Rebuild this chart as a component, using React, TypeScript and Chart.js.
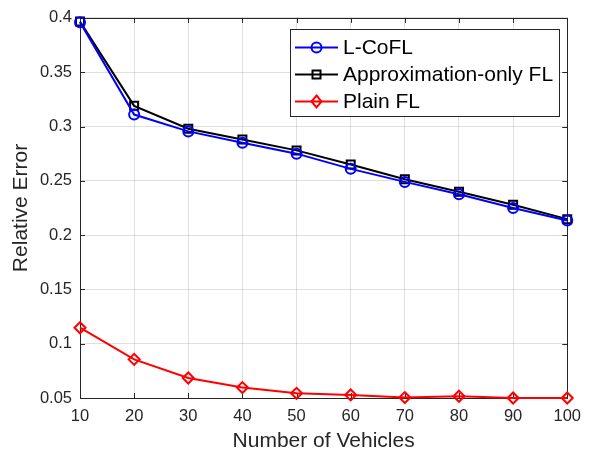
import React, { useEffect, useRef } from "react";
import { Chart, registerables } from "chart.js";
Chart.register(...registerables);

const vehicles = [10, 20, 30, 40, 50, 60, 70, 80, 90, 100];
const lcofl = [0.396, 0.311, 0.2955, 0.285, 0.275, 0.261, 0.249, 0.2376, 0.225, 0.2135];
const approxOnly = [0.3966, 0.319, 0.298, 0.288, 0.278, 0.265, 0.2514, 0.24, 0.228, 0.2147];
const plainFL = [0.1147, 0.0856, 0.0684, 0.0596, 0.0543, 0.0528, 0.0504, 0.0516, 0.05, 0.05];
const seriesNames = ["L-CoFL", "Approximation-only FL", "Plain FL"];
const xTicks = [10, 20, 30, 40, 50, 60, 70, 80, 90, 100];
const xTickLabels = ["10", "20", "30", "40", "50", "60", "70", "80", "90", "100"];
const yTicks = [0.05, 0.1, 0.15, 0.2, 0.25, 0.3, 0.35, 0.4];
const yTickLabels = ["0.05", "0.1", "0.15", "0.2", "0.25", "0.3", "0.35", "0.4"];

const AXIS = "#262626";
const FONT = "'Liberation Sans', Arial, Helvetica, sans-serif";

function marker(ctx: CanvasRenderingContext2D, style: string, x: number, y: number) {
  ctx.beginPath();
  if (style === "circle") {
    ctx.arc(x, y, 5, 0, Math.PI * 2);
  } else if (style === "rect") {
    ctx.rect(x - 4, y - 4, 8, 8);
  } else {
    ctx.moveTo(x, y - 6);
    ctx.lineTo(x + 5, y);
    ctx.lineTo(x, y + 6);
    ctx.lineTo(x - 5, y);
    ctx.closePath();
  }
  ctx.stroke();
}

const boxPlugin = {
  id: "matlabBox",
  beforeDatasetsDraw(chart: any) {
    const { ctx, chartArea, scales } = chart;
    const { left, right, top, bottom } = chartArea;
    ctx.save();
    ctx.strokeStyle = AXIS;
    ctx.lineWidth = 1;
    ctx.strokeRect(Math.round(left) + 0.5, Math.round(top) + 0.5, Math.round(right - left), Math.round(bottom - top));
    ctx.beginPath();
    const tl = 5;
    xTicks.forEach((v) => {
      const px = Math.round(scales.x.getPixelForValue(v)) + 0.5;
      ctx.moveTo(px, bottom);
      ctx.lineTo(px, bottom - tl);
      ctx.moveTo(px, top);
      ctx.lineTo(px, top + tl);
    });
    yTicks.forEach((v) => {
      const py = Math.round(scales.y.getPixelForValue(v)) + 0.5;
      ctx.moveTo(left, py);
      ctx.lineTo(left + tl, py);
      ctx.moveTo(right, py);
      ctx.lineTo(right - tl, py);
    });
    ctx.stroke();
    ctx.restore();
  },
};

const legendPlugin = {
  id: "matlabLegend",
  afterDraw(chart: any) {
    const ctx: CanvasRenderingContext2D = chart.ctx;
    const x0 = 290, y0 = 29, w = 269, h = 87;
    ctx.save();
    ctx.fillStyle = "#ffffff";
    ctx.fillRect(x0, y0, w, h);
    ctx.strokeStyle = AXIS;
    ctx.lineWidth = 1;
    ctx.strokeRect(x0 + 0.5, y0 + 0.5, w, h);
    chart.data.datasets.forEach((ds: any, i: number) => {
      const y = 47.5 + i * 27;
      ctx.strokeStyle = ds.borderColor;
      ctx.lineWidth = 2;
      ctx.beginPath();
      ctx.moveTo(295, y);
      ctx.lineTo(338, y);
      ctx.stroke();
      marker(ctx, ds.pointStyle, 316.5, y);
      ctx.fillStyle = "#000000";
      ctx.font = `21px ${FONT}`;
      ctx.textBaseline = "middle";
      ctx.textAlign = "left";
      ctx.fillText(ds.label, 343, y + 1);
    });
    ctx.restore();
  },
};

export default function App() {
  const ref = useRef<HTMLCanvasElement>(null);
  useEffect(() => {
    document.body.style.margin = "0";
    const mk = (label: string, data: number[], color: string, style: string, r: number) => ({
      label,
      data: vehicles.map((v, i) => ({ x: v, y: data[i] })),
      borderColor: color,
      backgroundColor: color,
      borderWidth: 2,
      pointStyle: style,
      pointRadius: r,
      pointBorderWidth: 2,
      pointBorderColor: color,
      pointBackgroundColor: "rgba(0,0,0,0)",
      tension: 0,
      clip: false,
    });
    const chart = new Chart(ref.current!, {
      type: "line",
      data: {
        datasets: [
          mk(seriesNames[0], lcofl, "#0000ff", "circle", 5),
          mk(seriesNames[1], approxOnly, "#000000", "rect", 5.66),
          mk(seriesNames[2], plainFL, "#ff0000", "rectRot", 5.5),
        ],
      },
      options: {
        responsive: false,
        animation: false,
        devicePixelRatio: 1,
        layout: { padding: { top: 17, right: 19, left: 0, bottom: 0 } },
        plugins: { legend: { display: false }, tooltip: { enabled: false } },
        scales: {
          x: {
            type: "linear",
            min: 10,
            max: 100,
            afterBuildTicks: (s: any) => {
              s.ticks = xTicks.map((v) => ({ value: v }));
            },
            afterFit: (s: any) => {
              s.height = 55;
            },
            ticks: {
              callback: (_v: any, i: number) => xTickLabels[i],
              color: AXIS,
              font: { family: FONT, size: 16.5 },
              padding: 9,
              maxRotation: 0,
              autoSkip: false,
            },
            grid: { color: "rgba(38,38,38,0.15)", drawTicks: false, lineWidth: 1 },
            border: { display: false },
            title: {
              display: true,
              text: "Number of Vehicles",
              color: AXIS,
              font: { family: FONT, size: 21, lineHeight: 1 },
              padding: { top: 0, bottom: 1 },
            },
          },
          y: {
            type: "linear",
            min: 0.05,
            max: 0.4,
            afterBuildTicks: (s: any) => {
              s.ticks = yTicks.map((v) => ({ value: v }));
            },
            afterFit: (s: any) => {
              s.width = 80;
            },
            ticks: {
              callback: (_v: any, i: number) => yTickLabels[i],
              color: AXIS,
              font: { family: FONT, size: 16.5 },
              padding: 8,
              autoSkip: false,
            },
            grid: { color: "rgba(38,38,38,0.15)", drawTicks: false, lineWidth: 1 },
            border: { display: false },
            title: {
              display: true,
              text: "Relative Error",
              color: AXIS,
              font: { family: FONT, size: 21, lineHeight: 1 },
              padding: { top: 11, bottom: 0 },
            },
          },
        },
      },
      plugins: [boxPlugin, legendPlugin],
    } as any);
    return () => chart.destroy();
  }, []);
  return (
    <div style={{ width: 590, height: 453 }}>
      <canvas ref={ref} width={590} height={453} style={{ display: "block" }} />
    </div>
  );
}
